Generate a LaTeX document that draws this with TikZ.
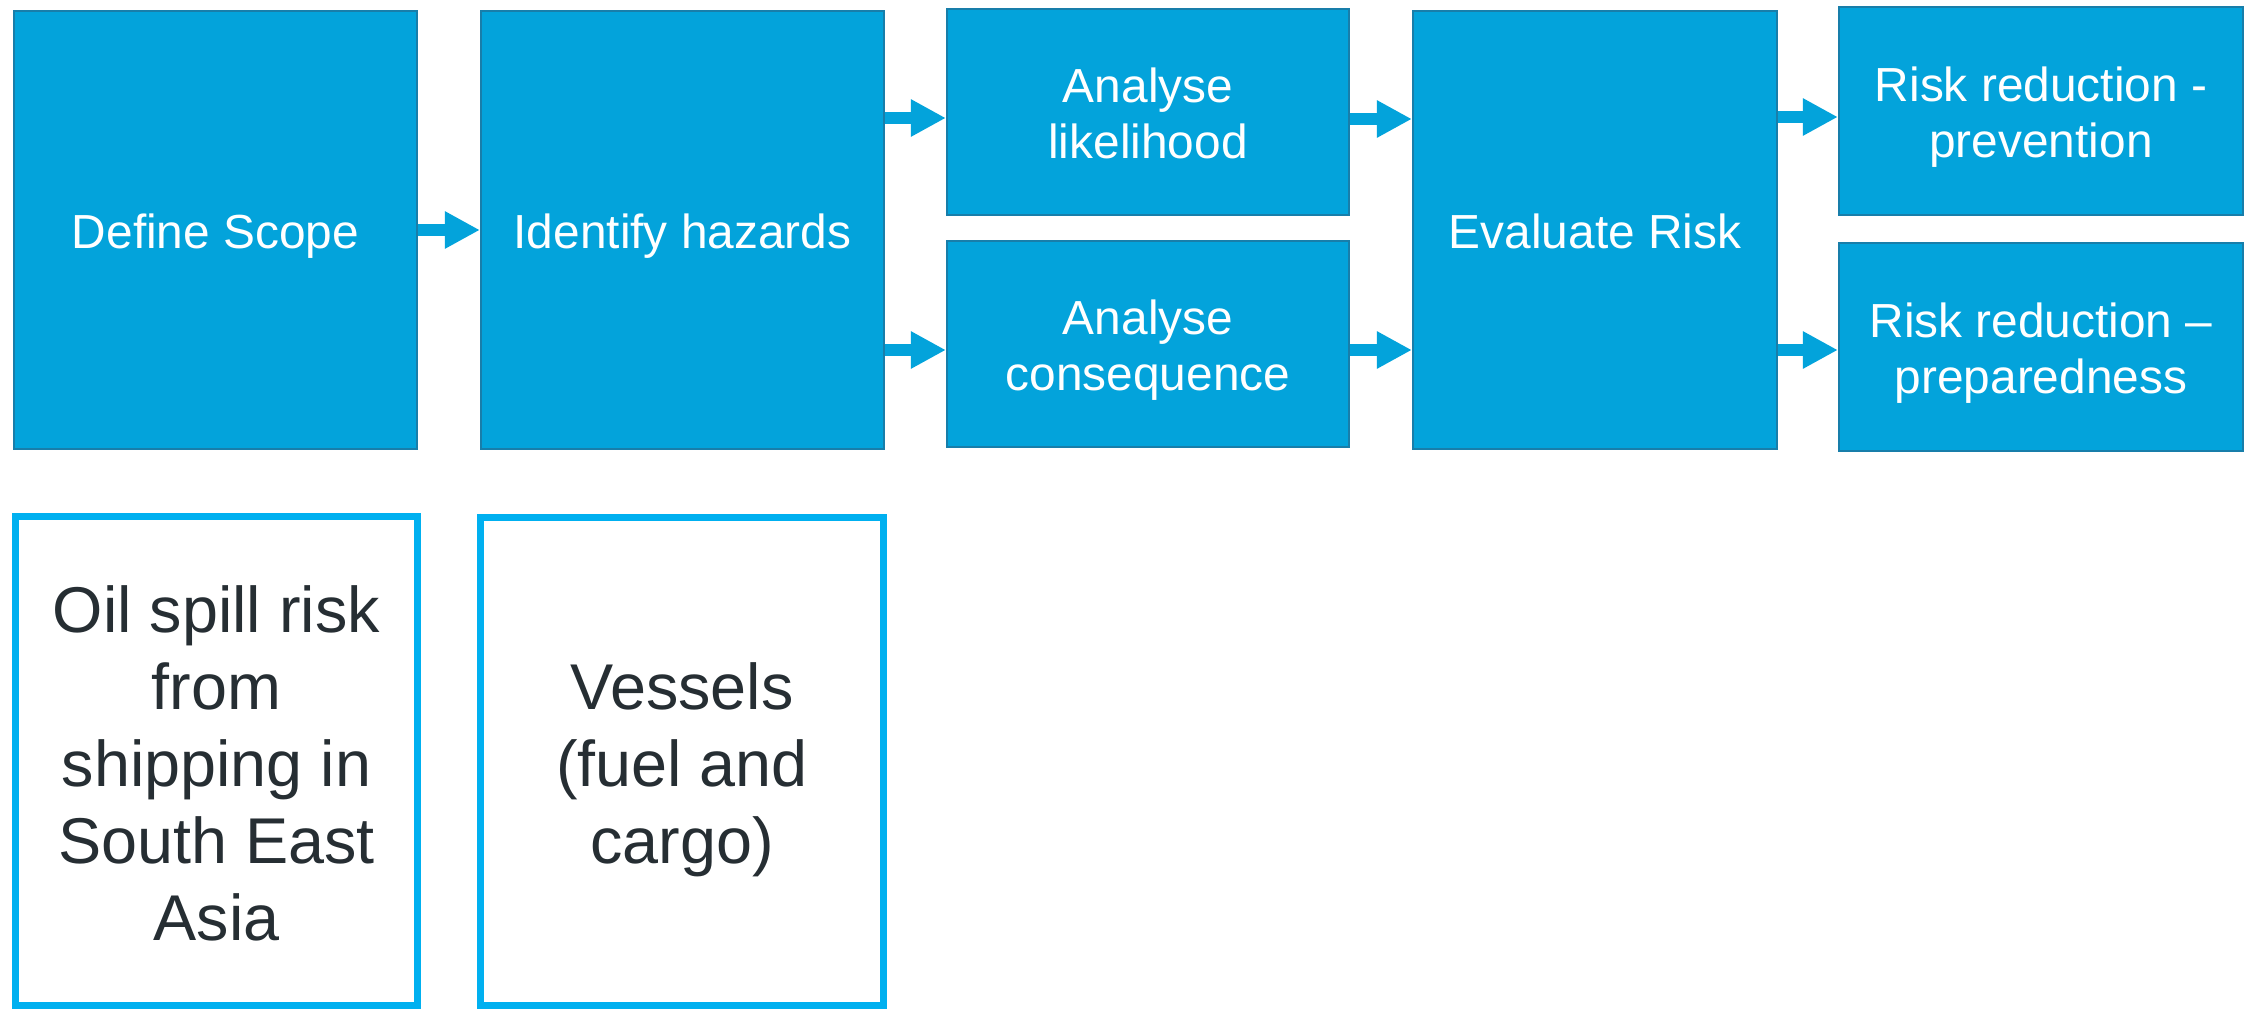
\documentclass[tikz,border=0pt]{standalone}
\usepackage{fontspec}
\setmainfont{Liberation Sans}
\usetikzlibrary{arrows.meta}

\definecolor{stepblue}{RGB}{3,163,219}
\definecolor{stepedge}{RGB}{24,126,170}
\definecolor{scopeblue}{RGB}{0,176,240}
\definecolor{scopetext}{RGB}{38,46,51}

\newcommand{\lineup}{\rule{0pt}{1em}}
\newcommand{\linedown}{\rule[-0.22em]{0pt}{0.22em}}

\tikzset{
  stepbox/.style={draw=stepedge, line width=0.02cm, fill=stepblue, text=white,
    align=center, inner sep=0pt, font=\fontsize{13.6}{16}\selectfont},
  notebox/.style={draw=scopeblue, line width=0.07cm, fill=white, text=scopetext,
    align=center, inner sep=0pt, font=\fontsize{18.4}{21.9}\selectfont},
  flow/.style={draw=stepblue, line width=0.12cm,
    -{Triangle[length=0.35cm, width=0.35cm]}}
}

\begin{document}
\begin{tikzpicture}[x=0.01cm, y=-0.01cm]

\useasboundingbox (0,0) rectangle (2247,1009);

\begin{scope}


\node[stepbox, minimum width=4.03cm, minimum height=4.38cm] (scope) at (215.5,230) {\lineup Define Scope\linedown};
\node[stepbox, minimum width=4.03cm, minimum height=4.38cm] (hazards) at (682.5,230) {\lineup Identify hazards\linedown};
\node[stepbox, minimum width=4.02cm, minimum height=2.06cm] (likely) at (1148,112) {\lineup Analyse\\likelihood\linedown};
\node[stepbox, minimum width=4.02cm, minimum height=2.06cm] (conseq) at (1148,344) {\lineup Analyse\\consequence\linedown};
\node[stepbox, minimum width=3.64cm, minimum height=4.38cm] (evaluate) at (1595,230) {\lineup Evaluate Risk\linedown};
\node[stepbox, minimum width=4.04cm, minimum height=2.08cm] (prevent) at (2041,111) {\lineup Risk reduction -\\prevention\linedown};
\node[stepbox, minimum width=4.04cm, minimum height=2.08cm] (prepare) at (2041,347) {\lineup Risk reduction --\\preparedness\linedown};


\node[notebox, minimum width=4.01cm, minimum height=4.88cm] (oilspill) at (216.5,761) {\lineup Oil spill risk\\from\\shipping in\\South East\\Asia\linedown};
\node[notebox, minimum width=4.02cm, minimum height=4.87cm] (vessels) at (682,761.5) {\lineup Vessels\\(fuel and\\cargo)\linedown};


\draw[flow] (scope) -- (hazards);
\draw[flow] (hazards.east |- 0,118) coordinate (h1) -- (h1 -| likely.west);
\draw[flow] (hazards.east |- 0,350) coordinate (h2) -- (h2 -| conseq.west);
\draw[flow] (likely.east |- 0,119) coordinate (l1) -- (l1 -| evaluate.west);
\draw[flow] (conseq.east |- 0,350) coordinate (c1) -- (c1 -| evaluate.west);
\draw[flow] (evaluate.east |- 0,117) coordinate (e1) -- (e1 -| prevent.west);
\draw[flow] (evaluate.east |- 0,350) coordinate (e2) -- (e2 -| prepare.west);


\end{scope}

\end{tikzpicture}
\end{document}
